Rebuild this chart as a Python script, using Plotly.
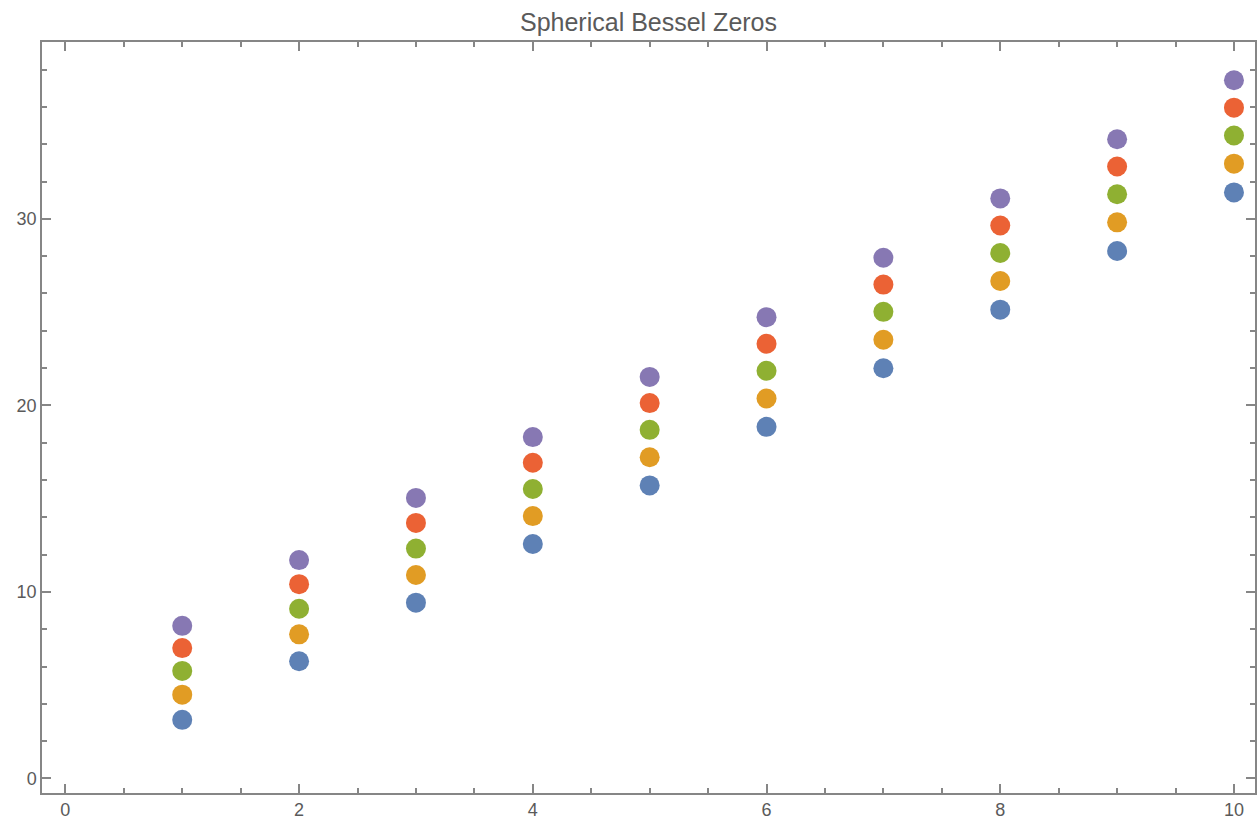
import plotly.graph_objects as go

k = list(range(1, 11))
j0 = [3.1416, 6.2832, 9.4248, 12.5664, 15.7080, 18.8496, 21.9911, 25.1327, 28.2743, 31.4159]
j1 = [4.4934, 7.7253, 10.9041, 14.0662, 17.2208, 20.3713, 23.5195, 26.6661, 29.8116, 32.9564]
j2 = [5.7635, 9.0950, 12.3229, 15.5146, 18.6890, 21.8539, 25.0128, 28.1678, 31.3201, 34.4705]
j3 = [6.9879, 10.4171, 13.6980, 16.9236, 20.1218, 23.3042, 26.4767, 29.6426, 32.8037, 35.9614]
j4 = [8.1826, 11.7049, 15.0397, 18.3013, 21.5254, 24.7276, 27.9156, 31.0939, 34.2654, 37.4317]

series = [j0, j1, j2, j3, j4]
colors = ["#5E81B5", "#E19C24", "#8FB032", "#EB6235", "#8778B3"]

fig = go.Figure()
for ys, c in zip(series, colors):
    fig.add_trace(go.Scatter(x=k, y=ys, mode="markers",
                             marker=dict(size=20, color=c, line=dict(width=0)),
                             showlegend=False, hoverinfo="skip"))

axis_common = dict(
    showline=True, linecolor="#868686", linewidth=1.5, mirror="allticks",
    showgrid=False, zeroline=False,
    ticks="inside", tickcolor="#868686", tickwidth=1.5,
    tickfont=dict(family="Liberation Sans, Arial, sans-serif", size=18, color="#5a5a5a"),
)

fig.update_xaxes(range=[-0.2, 10.18], dtick=2, tick0=0, ticklen=9,
                 minor=dict(dtick=0.5, tick0=0, ticks="inside", ticklen=5,
                            tickcolor="#868686", tickwidth=1.5, showgrid=False),
                 **axis_common)
fig.update_yaxes(range=[-0.78, 39.48], dtick=10, tick0=0, ticklen=9,
                 minor=dict(dtick=2, tick0=0, ticks="inside", ticklen=5,
                            tickcolor="#868686", tickwidth=1.5, showgrid=False),
                 **axis_common)

fig.update_layout(
    width=1258, height=827,
    margin=dict(l=42, r=1, t=42, b=34),
    paper_bgcolor="white", plot_bgcolor="white",
    title=dict(text="Spherical Bessel Zeros", x=0.5, xref="paper", xanchor="center",
               y=1 - 22 / 827, yref="container", yanchor="middle",
               font=dict(family="Liberation Sans, Arial, sans-serif", size=25, color="#5a5a5a")),
)

fig.write_html("out.html")
